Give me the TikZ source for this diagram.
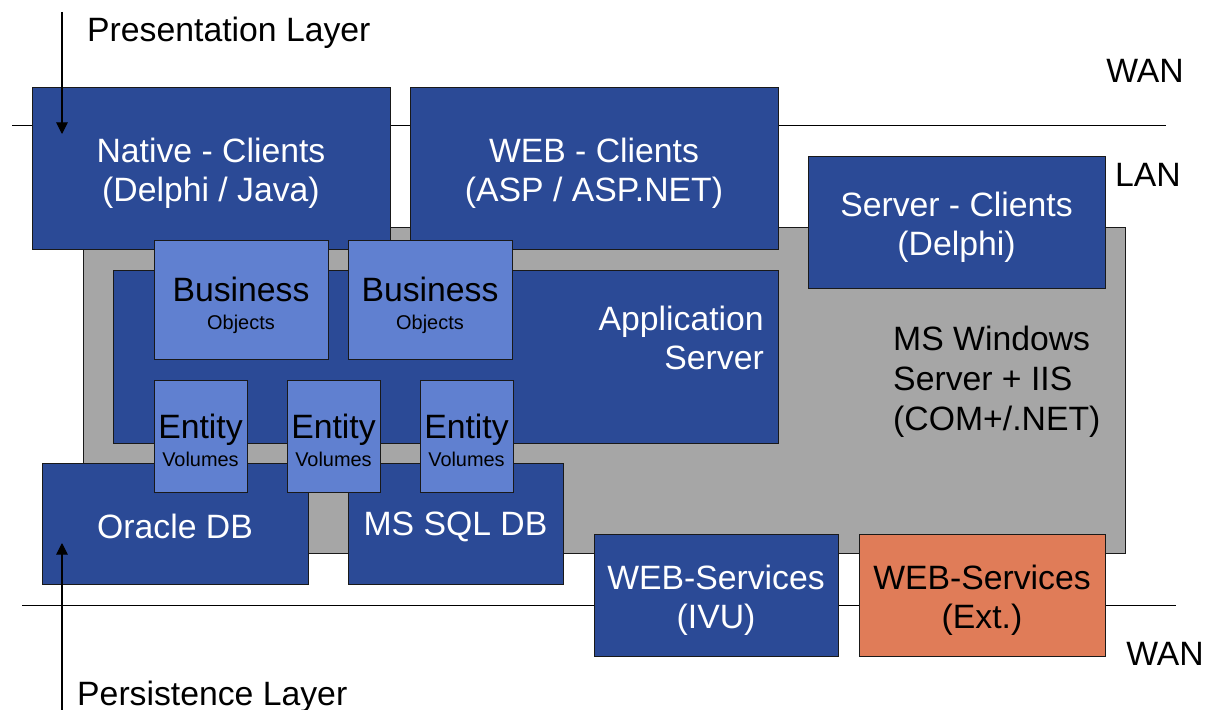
\documentclass[tikz,border=0pt]{standalone}
\usepackage{fontspec}
\setmainfont{Liberation Sans}
\usetikzlibrary{arrows.meta}
\definecolor{dblue}{RGB}{43,74,150}
\definecolor{lblue}{RGB}{96,128,208}
\definecolor{sgray}{RGB}{166,166,166}
\definecolor{orng}{RGB}{224,124,88}
\definecolor{edge}{RGB}{25,25,25}
\begin{document}
\begin{tikzpicture}[x=0.03cm,y=-0.03cm,
  sz/.style 2 args={minimum width=#1*0.03cm, minimum height=#2*0.03cm},
  box/.style={draw=edge, line width=0.7pt, inner sep=0pt},
  darkbox/.style={box, fill=dblue},
  lightbox/.style={box, fill=lblue},
  graybox/.style={box, fill=sgray},
  extbox/.style={box, fill=orng},
  lbl/.style={inner sep=0pt, font=\fontsize{28.8}{34}\selectfont},
  wtxt/.style={lbl, align=center, text=white, yshift=-0.16cm},
  btxt/.style={lbl, align=center, text=black, yshift=-0.16cm},
  stxt/.style={inner sep=0pt, align=center, text=black, font=\fontsize{28.8}{24}\selectfont, yshift=-0.14cm},
  netline/.style={line width=0.8pt, black},
  layerarrow/.style={line width=0.9pt, -{Triangle[width=10pt,length=10pt]}}]
\useasboundingbox (0,0) rectangle (1212,710);
% network lines
\coordinate (wanTa) at (12,125);
\coordinate (wanTb) at (1166,125);
\coordinate (wanBa) at (22,605);
\coordinate (wanBb) at (1176,605);
\draw[netline] (wanTa) -- (wanTb);
\draw[netline] (wanBa) -- (wanBb);
% server
\node[graybox, sz={1042}{326}] (srv) at (604,390) {};
\node[darkbox, sz={665}{173}] (app) at (445.5,356.5) {};
\node[lbl, anchor=east, align=right, text=white] (apptxt) at (764,338) {Application\\Server};
\node[lbl, anchor=west, align=left] (srvtxt) at (893,382) {MS Windows\\Server + IIS\\(COM+/.NET)};
% clients
\node[darkbox, sz={358}{162}] (native) at (211,168) {};
\node[wtxt] (nativeT) at (native) {Native - Clients\\(Delphi / Java)};
\node[darkbox, sz={368}{162}] (web) at (594,168) {};
\node[wtxt] (webT) at (web) {WEB - Clients\\(ASP / ASP.NET)};
\node[darkbox, sz={297}{132}] (sclient) at (956.5,222) {};
\node[wtxt] (sclientT) at (sclient) {Server - Clients\\(Delphi)};
% business objects
\node[lightbox, sz={174}{119}] (bo1) at (241,299.5) {};
\node[stxt, yshift=-0.04cm] (bo1T) at (bo1) {Business\\\fontsize{17}{24}\selectfont Objects};
\node[lightbox, sz={164}{119}] (bo2) at (430,299.5) {};
\node[stxt, yshift=-0.04cm] (bo2T) at (bo2) {Business\\\fontsize{17}{24}\selectfont Objects};
% databases
\node[darkbox, sz={266}{121}] (ora) at (175,523.5) {};
\node[wtxt, yshift=0.07cm] (oraT) at (ora) {Oracle DB};
\node[darkbox, sz={215}{121}] (sql) at (455.5,523.5) {};
\node[wtxt, yshift=0.07cm] (sqlT) at (sql) {MS SQL DB};
% entity volumes
\node[lightbox, sz={93}{112}] (ev1) at (200.5,436) {};
\node[stxt] (ev1T) at (ev1) {Entity\\\fontsize{17}{24}\selectfont Volumes};
\node[lightbox, sz={93}{112}] (ev2) at (333.5,436) {};
\node[stxt] (ev2T) at (ev2) {Entity\\\fontsize{17}{24}\selectfont Volumes};
\node[lightbox, sz={93}{112}] (ev3) at (466.5,436) {};
\node[stxt] (ev3T) at (ev3) {Entity\\\fontsize{17}{24}\selectfont Volumes};
% web services
\node[darkbox, sz={244}{122}] (wsivu) at (716,595) {};
\node[wtxt] (wsivuT) at (wsivu) {WEB-Services\\(IVU)};
\node[extbox, sz={246}{122}] (wsext) at (982,595) {};
\node[btxt] (wsextT) at (wsext) {WEB-Services\\(Ext.)};
% labels
\node[lbl, anchor=base west] (pres) at (87,42) {Presentation Layer};
\node[lbl, anchor=base west] (pers) at (77,705) {Persistence Layer};
\node[lbl, anchor=base] (wan1) at (1145,83) {WAN};
\node[lbl, anchor=base] (lan) at (1148,187) {LAN};
\node[lbl, anchor=base] (wan2) at (1165,665) {WAN};
% layer arrows
\coordinate (pa) at (62,12);
\coordinate (pb) at (62,134);
\coordinate (qa) at (62,710);
\coordinate (qb) at (62,543);
\draw[layerarrow] (pa) -- (pb);
\draw[layerarrow] (qa) -- (qb);
\end{tikzpicture}
\end{document}
